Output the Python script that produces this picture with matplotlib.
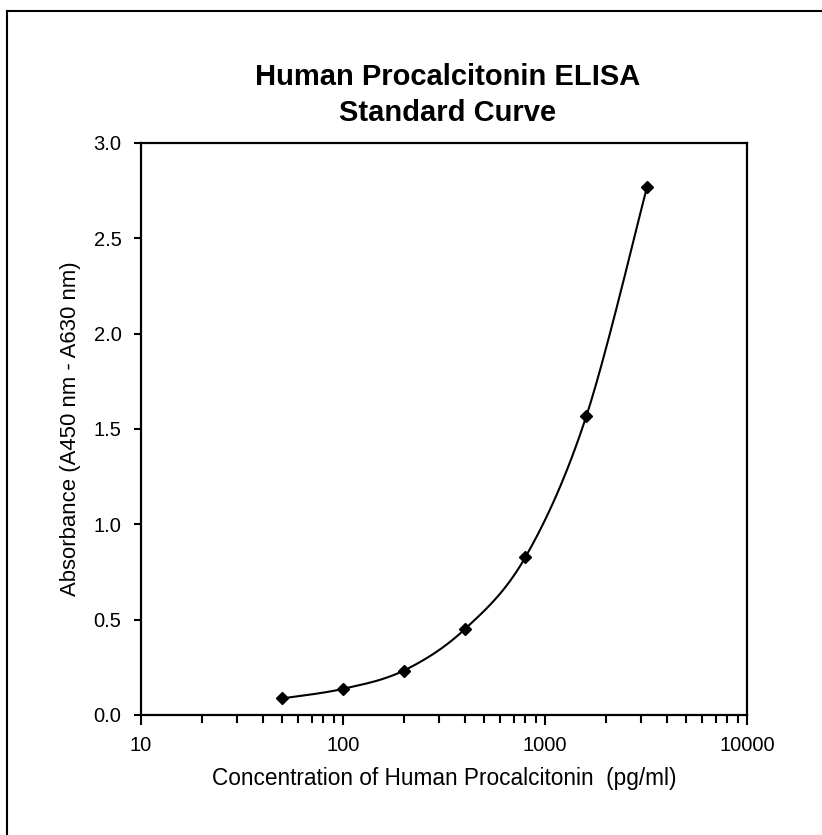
import matplotlib
matplotlib.use("Agg")
import matplotlib.pyplot as plt
from matplotlib.ticker import LogLocator, FixedLocator, NullFormatter
from matplotlib.lines import Line2D
import numpy as np

# standard curve data
conc = [50, 100, 200, 400, 800, 1600, 3200]
absorb = [0.087, 0.137, 0.233, 0.449, 0.828, 1.566, 2.77]

x_ticks = [10, 100, 1000, 10000]
x_ticklabels = ["10", "100", "1000", "10000"]
y_ticks = [0.0, 0.5, 1.0, 1.5, 2.0, 2.5, 3.0]

plt.rcParams["font.family"] = ["Liberation Sans", "DejaVu Sans"]


def smooth(xs, ys, n=40):
    # excel-like smoothed line (catmull-rom bezier in normalized log space)
    u = (np.log10(xs) - 1) / 3.0
    v = np.array(ys) / 3.0
    pts = np.column_stack([u, v])
    out = []
    for i in range(len(pts) - 1):
        p0 = pts[max(i - 1, 0)]
        p1 = pts[i]
        p2 = pts[i + 1]
        p3 = pts[min(i + 2, len(pts) - 1)]
        c1 = p1 + (p2 - p0) / 6.0
        c2 = p2 - (p3 - p1) / 6.0
        t = np.linspace(0, 1, n)[:, None]
        seg = ((1 - t) ** 3) * p1 + 3 * ((1 - t) ** 2) * t * c1 + 3 * (1 - t) * t ** 2 * c2 + t ** 3 * p2
        out.append(seg)
    out = np.vstack(out)
    return 10 ** (out[:, 0] * 3 + 1), out[:, 1] * 3


fig = plt.figure(figsize=(8.22, 8.35), dpi=100)
ax = fig.add_axes([141 / 822, 1 - 715 / 835, 606 / 822, 572 / 835])

sx, sy = smooth(conc, absorb)
ax.plot(sx, sy, color="black", linewidth=1.5)
ax.plot(conc, absorb, linestyle="none", marker="D", markersize=6.5, color="black")

ax.set_xscale("log")
ax.set_xlim(10, 10000)
ax.set_ylim(0, 3.0)
ax.xaxis.set_major_locator(FixedLocator(x_ticks))
ax.set_xticklabels(x_ticklabels)
ax.xaxis.set_minor_locator(LogLocator(base=10, subs=np.arange(2, 10)))
ax.xaxis.set_minor_formatter(NullFormatter())
ax.set_yticks(y_ticks)
ax.set_yticklabels(["%.1f" % v for v in y_ticks])

for s in ax.spines.values():
    s.set_linewidth(1.6)
ax.tick_params(axis="both", which="major", direction="out", length=7, width=1.5,
               labelsize=14.5)
ax.tick_params(axis="x", which="major", pad=8)
ax.tick_params(axis="x", which="minor", direction="out", length=5.5, width=1.5)
ax.tick_params(axis="y", which="major", length=5, pad=9)

ax.set_xlabel("Concentration of Human Procalcitonin  (pg/ml)", fontsize=16.3, labelpad=9)
ax.set_ylabel("Absorbance (A450 nm - A630 nm)", fontsize=15.9, labelpad=9)

fig.text(448 / 822, 1 - 95 / 835, "Human Procalcitonin ELISA\nStandard Curve",
         ha="center", va="center", fontsize=21, fontweight="bold", linespacing=1.35)

# outer frame of the original picture
fig.add_artist(Line2D([7 / 822, 7 / 822], [0, 1 - 11 / 835], transform=fig.transFigure,
                      color="black", linewidth=1.5))
fig.add_artist(Line2D([7 / 822, 1], [1 - 11 / 835, 1 - 11 / 835], transform=fig.transFigure,
                      color="black", linewidth=1.5))

fig.savefig("out.png", dpi=100)
plt.close(fig)
